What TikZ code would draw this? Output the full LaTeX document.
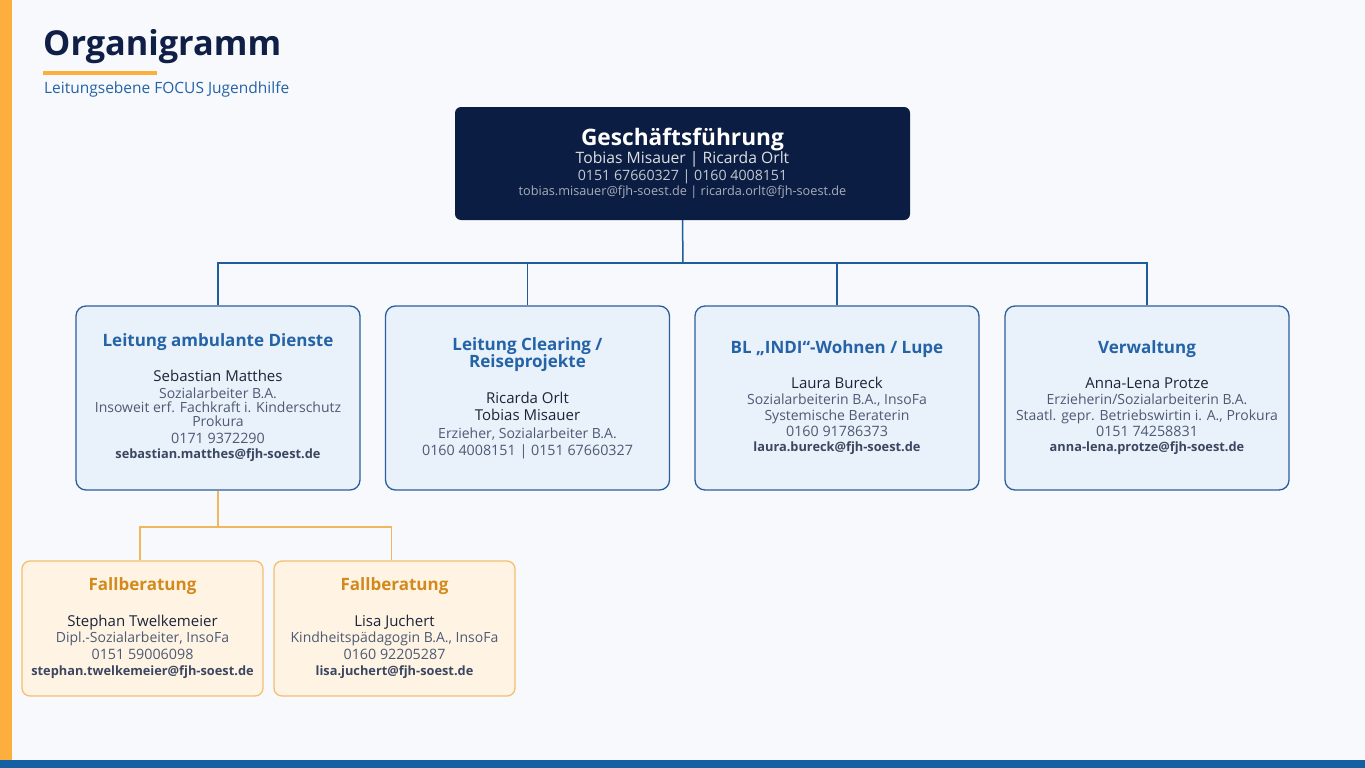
\documentclass[tikz,border=0pt]{standalone}
\usepackage{xcolor}
\usepackage{tikz}
\usepackage{fontspec}
\setmainfont{Open Sans}
\usetikzlibrary{positioning}
\definecolor{PageBG}     {HTML}{F7F9FC}
\definecolor{FocusOrange}{HTML}{FCAF3C}
\definecolor{FocusBlue}  {HTML}{155FA3}
\definecolor{NavyBox}    {HTML}{0B1D42}
\definecolor{NavyText}   {HTML}{0F1F45}
\definecolor{LineBlue}   {HTML}{1F5C9E}
\definecolor{LeadFill}   {HTML}{E9F1FB}
\definecolor{LeadDraw}   {HTML}{2B5E9C}
\definecolor{LeadTitle}  {HTML}{2463A6}
\definecolor{NameText}   {HTML}{1C2438}
\definecolor{InfoText}   {HTML}{4D5A73}
\definecolor{MailText}   {HTML}{3B4761}
\definecolor{CaseFill}   {HTML}{FFF4E4}
\definecolor{CaseDraw}   {HTML}{F4BE6E}
\definecolor{CaseTitle}  {HTML}{D4891C}
\definecolor{CaseLine}   {HTML}{F0B75E}
\setlength{\lineskiplimit}{-100pt}

\newcommand{\orgname}[1]{{\fontsize{15}{14}\selectfont\color{NameText}#1}}
\newcommand{\orginfo}[1]{{\fontsize{14}{14}\selectfont\color{InfoText}#1}}
\newcommand{\orgphone}[1]{{\fontsize{14.3}{14}\selectfont\color{InfoText}#1}}
\newcommand{\orgmail}[1]{{\fontsize{12.8}{14}\selectfont\bfseries\color{MailText}#1}}

\tikzset{
  leadbox/.style={draw=LeadDraw,fill=LeadFill,line width=1.3pt,rounded corners=10pt,
    minimum width=284pt,minimum height=184pt,align=center,inner sep=0pt,
    font=\fontsize{14}{14}\selectfont},
  casebox/.style={draw=CaseDraw,fill=CaseFill,line width=1.3pt,rounded corners=8pt,
    minimum width=241pt,minimum height=135pt,align=center,inner sep=0pt,
    font=\fontsize{14}{14}\selectfont},
  orgline/.style={draw=LineBlue,line width=1.5pt},
  caseline/.style={draw=CaseLine,line width=1.4pt}
}

\begin{document}
\begin{tikzpicture}[x=1pt,y=-1pt]
  \useasboundingbox (0,0) rectangle (1365,768);
  \fill[PageBG] (0,0) rectangle (1365,768);
  \fill[FocusOrange] (0,0) rectangle (12,768);
  \fill[FocusBlue] (0,760) rectangle (1365,768);

  % heading
  \node[anchor=base west,inner sep=0pt,text=NavyText,
        font=\fontsize{34.3}{34}\selectfont\bfseries] (title) at (43,56) {Organigramm};
  \fill[FocusOrange] (43,71) rectangle (157,75);
  \node[anchor=base west,inner sep=0pt,text=LeadTitle,
        font=\fontsize{15.5}{14}\selectfont] (subtitle) at (44,93) {Leitungsebene FOCUS Jugendhilfe};

  % management
  \node[fill=NavyBox,rounded corners=6pt,minimum width=455pt,minimum height=113pt,
        align=center,inner sep=0pt,font=\fontsize{14}{14}\selectfont] (gf) at (682.5,163.5) {%
    {\fontsize{22.7}{14}\selectfont\bfseries\color{white}Geschäftsführung}\\[4pt]
    {\fontsize{15.7}{14}\selectfont\color{NavyBox!14!white}Tobias Misauer | Ricarda Orlt}\\[3pt]
    {\fontsize{14.2}{14}\selectfont\color{NavyBox!24!white}0151 67660327 | 0160 4008151}\\[1pt]
    {\fontsize{12.7}{14}\selectfont\color{NavyBox!36!white}tobias.misauer@fjh-soest.de | ricarda.orlt@fjh-soest.de}%
  };

  % departments
  \node[leadbox] (amb) at (218,398) {%
    {\fontsize{17}{14}\selectfont\bfseries\color{LeadTitle}Leitung ambulante Dienste}\\[21pt]
    \orgname{Sebastian Matthes}\\[3pt]
    \orginfo{Sozialarbeiter B.A.}\\
    \orginfo{Insoweit erf. Fachkraft i. Kinderschutz}\\
    \orginfo{Prokura}\\[3pt]
    \orgphone{0171 9372290}\\[1pt]
    \orgmail{sebastian.matthes@fjh-soest.de}%
  };
  \node[leadbox] (clear) at (527.5,398) {%
    {\fontsize{17}{14}\selectfont\bfseries\color{LeadTitle}Leitung Clearing /}\\[3pt]
    {\fontsize{17}{14}\selectfont\bfseries\color{LeadTitle}Reiseprojekte}\\[22pt]
    \orgname{Ricarda Orlt}\\[3pt]
    \orgname{Tobias Misauer}\\[4pt]
    \orginfo{Erzieher, Sozialarbeiter B.A.}\\[3pt]
    \orgphone{0160 4008151 | 0151 67660327}%
  };
  \node[leadbox] (indi) at (837,398) {%
    {\fontsize{17}{14}\selectfont\bfseries\color{LeadTitle}BL „INDI“-Wohnen / Lupe}\\[21pt]
    \orgname{Laura Bureck}\\[2pt]
    \orginfo{Sozialarbeiterin B.A., InsoFa}\\[2pt]
    \orginfo{Systemische Beraterin}\\[2pt]
    \orgphone{0160 91786373}\\[1pt]
    \orgmail{laura.bureck@fjh-soest.de}%
  };
  \node[leadbox] (verw) at (1147,398) {%
    {\fontsize{17}{14}\selectfont\bfseries\color{LeadTitle}Verwaltung}\\[21pt]
    \orgname{Anna-Lena Protze}\\[2pt]
    \orginfo{Erzieherin/Sozialarbeiterin B.A.}\\[2pt]
    \orginfo{Staatl. gepr. Betriebswirtin i. A., Prokura}\\[2pt]
    \orgphone{0151 74258831}\\[1pt]
    \orgmail{anna-lena.protze@fjh-soest.de}%
  };

  % case consulting
  \node[casebox] (fb1) at (142.5,628.5) {%
    {\fontsize{17}{14}\selectfont\bfseries\color{CaseTitle}Fallberatung}\\[22pt]
    \orgname{Stephan Twelkemeier}\\[2pt]
    \orginfo{Dipl.-Sozialarbeiter, InsoFa}\\[3pt]
    \orgphone{0151 59006098}\\[2pt]
    \orgmail{stephan.twelkemeier@fjh-soest.de}%
  };
  \node[casebox] (fb2) at (394.5,628.5) {%
    {\fontsize{17}{14}\selectfont\bfseries\color{CaseTitle}Fallberatung}\\[22pt]
    \orgname{Lisa Juchert}\\[2pt]
    \orginfo{Kindheitspädagogin B.A., InsoFa}\\[3pt]
    \orgphone{0160 92205287}\\[2pt]
    \orgmail{lisa.juchert@fjh-soest.de}%
  };

  % connectors
  \coordinate (split) at (683,263);
  \draw[orgline] (gf.south) -- (split);
  \draw[orgline] (split) -| (amb.north);
  \draw[orgline] (split) -| (clear.north);
  \draw[orgline] (split) -| (indi.north);
  \draw[orgline] (split) -| (verw.north);
  \coordinate (casesplit) at (218,527);
  \draw[caseline] (amb.south) -- (casesplit);
  \draw[caseline] (casesplit) -| ([xshift=-2.5pt]fb1.north);
  \draw[caseline] (casesplit) -| ([xshift=-3pt]fb2.north);
\end{tikzpicture}
\end{document}
